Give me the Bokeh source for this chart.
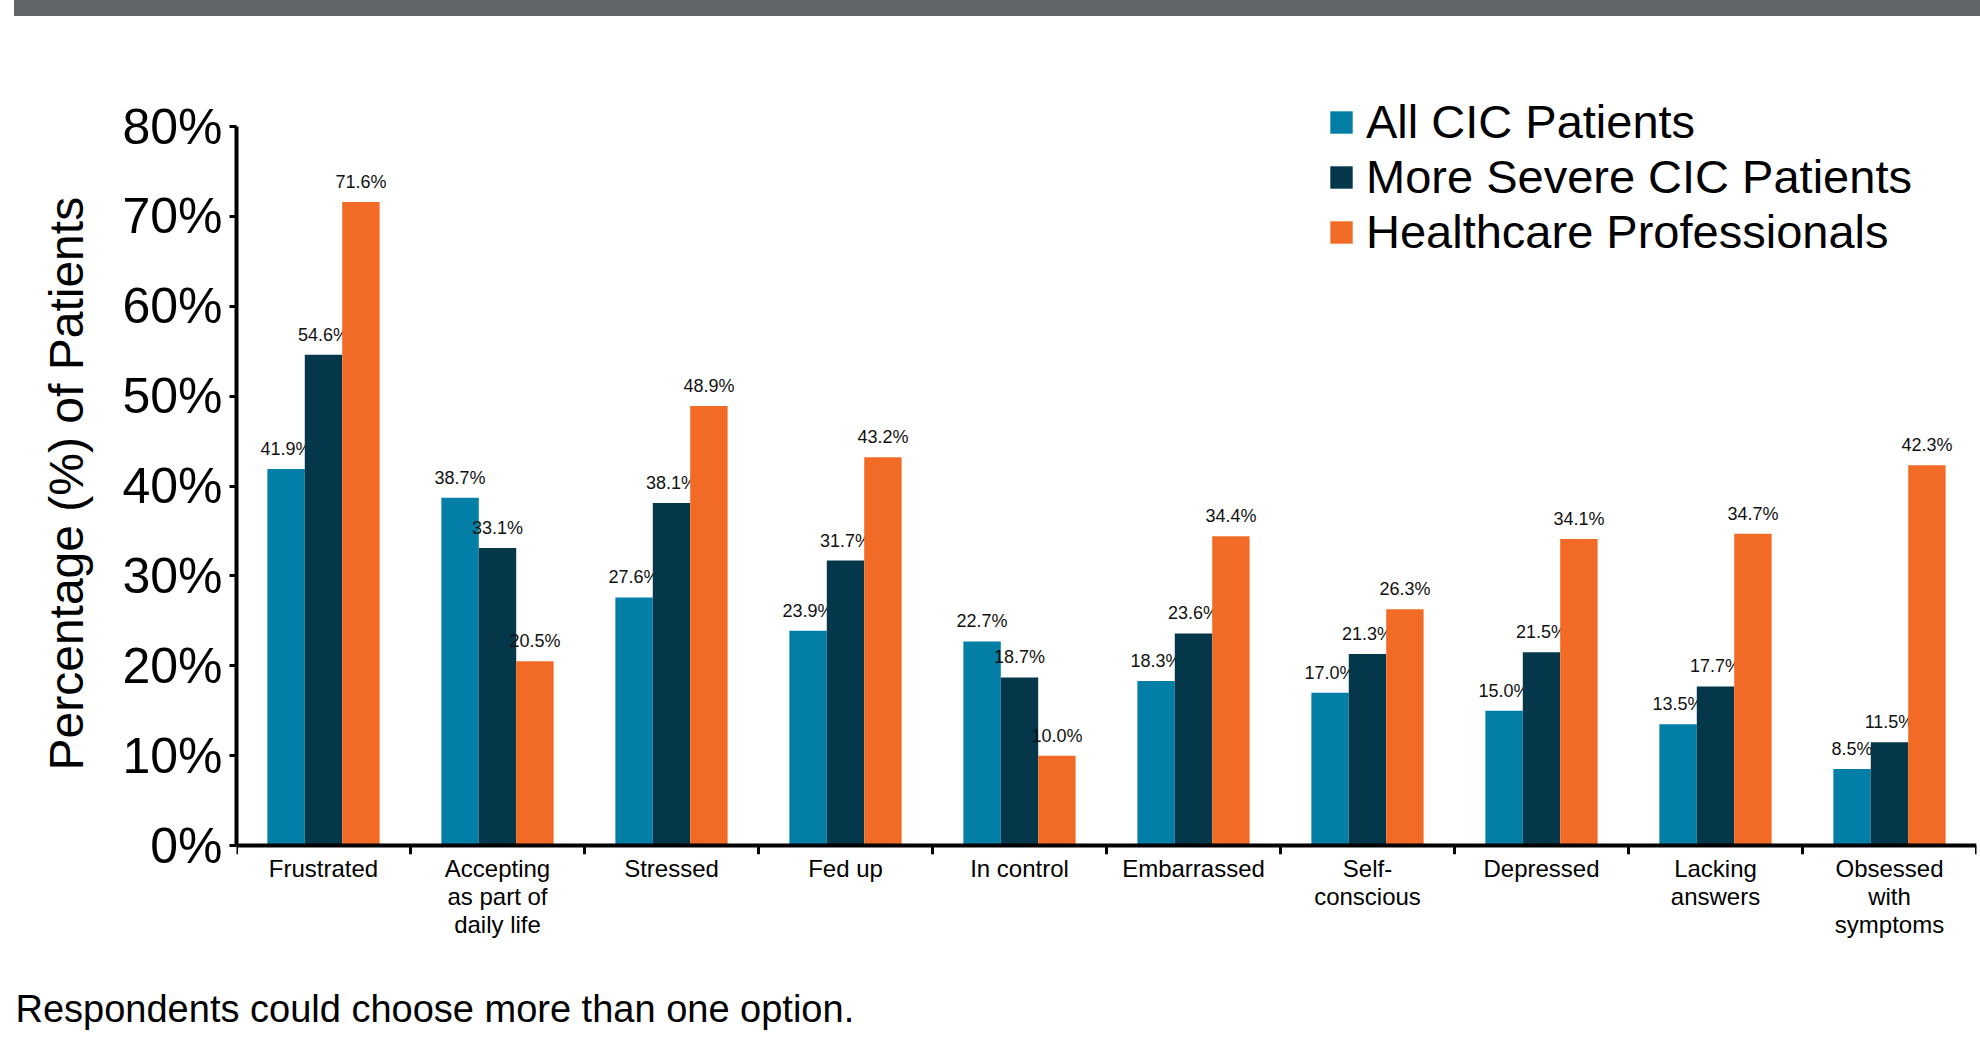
from bokeh.plotting import figure
from bokeh.models import (Range1d, FixedTicker, LinearAxis, PrintfTickFormatter,
                          Legend, LegendItem, Title, ColumnDataSource, Span, Div)
from bokeh.layouts import column
from bokeh.embed import file_html
from bokeh.resources import INLINE
from bokeh.core.properties import value
from bokeh.transform import dodge

# ---------------- data ----------------
categories = ["Frustrated", "Accepting\nas part of\ndaily life", "Stressed", "Fed up",
              "In control", "Embarrassed", "Self-\nconscious", "Depressed",
              "Lacking\nanswers", "Obsessed\nwith\nsymptoms"]
all_cic = [41.9, 38.7, 27.6, 23.9, 22.7, 18.3, 17.0, 15.0, 13.5, 8.5]
severe_cic = [54.6, 33.1, 38.1, 31.7, 18.7, 23.6, 21.3, 21.5, 17.7, 11.5]
hcp = [71.6, 20.5, 48.9, 43.2, 10.0, 34.4, 26.3, 34.1, 34.7, 42.3]
series_names = ["All CIC Patients", "More Severe CIC Patients", "Healthcare Professionals"]
y_ticks = [0, 10, 20, 30, 40, 50, 60, 70, 80]
footnote = "Respondents could choose more than one option."
y_title = "Percentage (%) of Patients"

# ---------------- style ----------------
FONT = "Liberation Sans"
colors = ["#037ea7", "#033749", "#f26b26"]
offsets = [-0.215, 0.0, 0.215]
bar_w = 0.215
W = 1980
PX_PER_UNIT = 719 / 80          # pixels per percentage point
Y_AXIS_MAX = 80
Y_TOP = Y_AXIS_MAX + 110 / PX_PER_UNIT   # room above 80% for the legend
Y_BOTTOM = -9 / PX_PER_UNIT               # room below 0 for the category ticks

n = len(categories)
centers = [i + 0.5 for i in range(n)]
boundaries = list(range(n + 1))
source = ColumnDataSource(dict(
    x=centers,
    s0=all_cic, s1=severe_cic, s2=hcp,
    l0=[f"{v:.1f}%" for v in all_cic],
    l1=[f"{v:.1f}%" for v in severe_cic],
    l2=[f"{v:.1f}%" for v in hcp],
))

# top grey band
band = Div(text="", width=W - 14, height=16, margin=(0, 0, 0, 14),
           styles={"background-color": "#606569"})

p = figure(width=W, height=926, toolbar_location=None, output_backend="svg",
           x_range=Range1d(0, n), y_range=Range1d(Y_BOTTOM, Y_TOP),
           min_border_left=236, min_border_right=4, min_border_top=0, min_border_bottom=88,
           outline_line_color=None, x_axis_type=None)
p.grid.visible = False

renderers = []
for k, (off, col) in enumerate(zip(offsets, colors)):
    r = p.vbar(x=dodge("x", off, range=p.x_range), top=f"s{k}", bottom=0, width=bar_w,
               source=source, fill_color=col, line_color=None)
    renderers.append(r)
    p.text(x=dodge("x", off, range=p.x_range), y=f"s{k}", text=f"l{k}", source=source,
           text_align="center", text_baseline="alphabetic", y_offset=-20,
           text_font=value(FONT), text_font_size="18px", text_color="#111111")

# x axis line and category boundary ticks
p.add_layout(Span(location=0, dimension="width", line_color="black", line_width=4))
p.segment(x0=boundaries, y0=[0] * len(boundaries), x1=boundaries, y1=[Y_BOTTOM] * len(boundaries),
          line_color="black", line_width=3)

# y axis
ya = p.yaxis[0]
ya.bounds = (0, Y_AXIS_MAX)
ya.ticker = FixedTicker(ticks=y_ticks)
ya.formatter = PrintfTickFormatter(format="%d%%")
ya.axis_line_width = 4
ya.axis_line_color = "black"
ya.major_tick_line_width = 3
ya.major_tick_out = 7
ya.major_tick_in = 0
ya.minor_tick_line_color = None
ya.major_label_text_font = FONT
ya.major_label_text_font_size = "50px"
ya.major_label_text_color = "black"
ya.major_label_standoff = 7

p.add_layout(Title(text=y_title, align="left", offset=84, standoff=54,
                   text_font=FONT, text_font_size="48px", text_font_style="normal",
                   text_color="black"), "left")

# x axis carrying the category names
xl = LinearAxis(ticker=FixedTicker(ticks=centers),
                major_label_overrides={c: lab for c, lab in zip(centers, categories)})
xl.axis_line_color = None
xl.major_tick_line_color = None
xl.major_tick_out = 0
xl.major_tick_in = 0
xl.minor_tick_line_color = None
xl.major_label_text_font = FONT
xl.major_label_text_font_size = "24px"
xl.major_label_text_color = "black"
xl.major_label_text_line_height = 1.05
xl.major_label_standoff = 0
p.add_layout(xl, "below")

legend = Legend(items=[LegendItem(label=nm, renderers=[r]) for nm, r in zip(series_names, renderers)],
                location=(1091, 595), orientation="vertical",
                glyph_width=28, glyph_height=28, label_standoff=11,
                label_text_font=FONT, label_text_font_size="47px", label_text_color="black",
                label_text_line_height=1.0,
                label_height=50, spacing=0, padding=0, margin=0,
                border_line_color=None, background_fill_alpha=0)
p.add_layout(legend)

# footnote strip
foot = figure(width=W, height=105, toolbar_location=None, output_backend="svg",
              x_range=Range1d(0, 1), y_range=Range1d(0, 1),
              min_border_left=236, min_border_right=4, min_border_top=87, min_border_bottom=0,
              outline_line_color=None)
foot.axis.visible = False
foot.grid.visible = False
foot.add_layout(Title(text=footnote, align="left", offset=-221, standoff=0,
                      text_font=FONT, text_font_size="38px", text_font_style="normal",
                      text_color="black"), "above")

layout = column(band, p, foot, spacing=0)
open("out.html", "w").write(file_html(layout, INLINE))
